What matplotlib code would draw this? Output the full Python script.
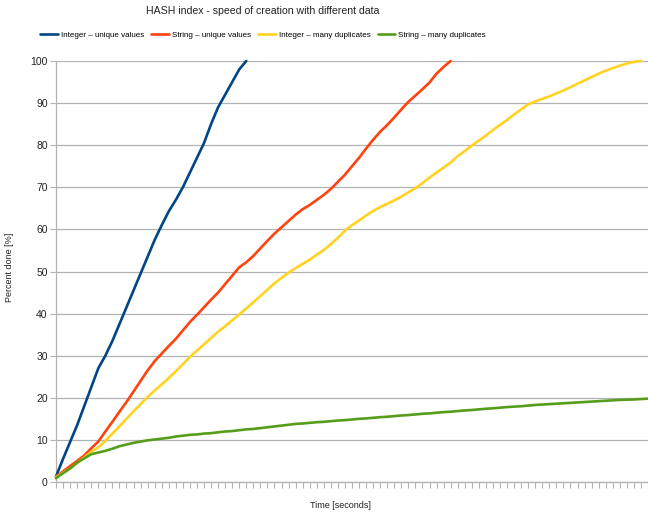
import matplotlib
matplotlib.use("Agg")
import matplotlib.pyplot as plt
from matplotlib.ticker import MultipleLocator

plt.rcParams['font.family'] = ['Liberation Sans', 'DejaVu Sans']

TITLE = "HASH index - speed of creation with different data"
SERIES_NAMES = ["Integer \u2013 unique values", "String \u2013 unique values",
                "Integer \u2013 many duplicates", "String \u2013 many duplicates"]
COLORS = ["#004586", "#ff420e", "#ffd320", "#579d1c"]

# percent done, one value per time step
int_unique = [1.3, 5.5, 9.5, 13.5, 18, 22.5, 27, 30, 33.5, 37.5, 41.5, 45.5, 49.5, 53.5,
              57.5, 61, 64.3, 67, 70, 73.5, 77, 80.5, 85, 89, 92, 95, 98, 100]

str_unique = [1.3, 2.5, 3.8, 5, 6.3, 8, 9.6, 12, 14.3, 16.7, 19, 21.5, 24, 26.5, 28.7,
              30.5, 32.3, 34, 36, 38, 39.7, 41.5, 43.3, 45, 47, 49, 51, 52.2, 53.7, 55.5,
              57.3, 59, 60.5, 62, 63.5, 64.8, 65.8, 67, 68.2, 69.6, 71.3, 73, 75, 77, 79.2,
              81.3, 83.2, 84.8, 86.6, 88.5, 90.3, 91.8, 93.3, 94.9, 97, 98.6, 100]

int_dups = [1.1, 2.2, 3.2, 4.5, 5.8, 7.2, 8.2, 9.8, 11.5, 13.2, 15, 16.8, 18.5, 20.2, 21.7,
            23.2, 24.7, 26.3, 28, 29.7, 31.2, 32.7, 34.2, 35.7, 37, 38.4, 39.8, 41.2, 42.7,
            44.2, 45.7, 47.2, 48.5, 49.7, 50.8, 51.8, 52.8, 54, 55.1, 56.5, 58, 59.7, 61,
            62.1, 63.3, 64.4, 65.3, 66.1, 66.9, 67.8, 68.8, 69.8, 71, 72.3, 73.5, 74.7, 75.9,
            77.4, 78.6, 79.9, 81.1, 82.3, 83.6, 84.8, 86.0, 87.3, 88.5, 89.7, 90.4, 91.0,
            91.6, 92.3, 93.0, 93.8, 94.6, 95.4, 96.2, 97.0, 97.7, 98.3, 98.9, 99.4, 99.8, 100]

str_dups = [0.9, 2.1, 3.2, 4.6, 5.6, 6.6, 7.0, 7.4, 7.9, 8.5, 8.9, 9.3, 9.6, 9.9, 10.1,
            10.3, 10.5, 10.8, 11.0, 11.2, 11.3, 11.5, 11.6, 11.8, 12.0, 12.1, 12.3, 12.5,
            12.6, 12.8, 13.0, 13.2, 13.4, 13.6, 13.8, 13.9, 14.05, 14.2, 14.3, 14.45, 14.6,
            14.7, 14.85, 15.0, 15.1, 15.25, 15.4, 15.5, 15.65, 15.8, 15.9, 16.05, 16.2, 16.3,
            16.45, 16.6, 16.7, 16.85, 17.0, 17.1, 17.25, 17.4, 17.5, 17.65, 17.8, 17.9, 18.0,
            18.15, 18.3, 18.4, 18.5, 18.6, 18.7, 18.8, 18.9, 19.0, 19.1, 19.2, 19.3, 19.4,
            19.5, 19.55, 19.6, 19.7, 19.8]

N_STEPS = 84
GRID = "#b3b3b3"


def main():
    fig = plt.figure(figsize=(6.48, 5.12), dpi=100)
    ax = fig.add_axes([56 / 648, 30 / 512, 592 / 648, 421 / 512])

    for name, vals, col in zip(SERIES_NAMES, [int_unique, str_unique, int_dups, str_dups], COLORS):
        ax.plot(range(len(vals)), vals, color=col, lw=1.9, label=name,
                solid_joinstyle="round", solid_capstyle="round", clip_on=False, zorder=3)

    ax.set_xlim(0, N_STEPS)
    ax.set_ylim(0, 100)
    ax.xaxis.set_major_locator(MultipleLocator(1))
    ax.yaxis.set_major_locator(MultipleLocator(10))
    ax.tick_params(axis="x", length=4, width=0.8, color=GRID, labelbottom=False)
    ax.tick_params(axis="y", length=4, width=0.8, color=GRID, labelsize=7.5,
                   labelcolor="#222222", pad=2)
    ax.grid(axis="y", color=GRID, lw=0.9)
    ax.set_axisbelow(True)
    for s in ["top", "right"]:
        ax.spines[s].set_visible(False)
    for s in ["left", "bottom"]:
        ax.spines[s].set_color(GRID)
        ax.spines[s].set_linewidth(0.9)

    fig.text(340 / 648, 1 - 506 / 512, "Time [seconds]", fontsize=6.5,
             ha="center", va="center", color="#222222")
    fig.text(10 / 648, 1 - 267 / 512, "Percent done [%]", fontsize=6.5, rotation=90,
             ha="center", va="center", color="#222222")
    fig.text(263 / 648, 1 - 11 / 512, TITLE, fontsize=7.6, ha="center", va="center",
             color="#222222")

    fig.legend(loc="center", bbox_to_anchor=(263 / 648, 1 - 35 / 512), ncol=4,
               frameon=False, fontsize=5.8, handlelength=2.2, handletextpad=0.35,
               columnspacing=0.9, borderaxespad=0)

    fig.savefig("out.png", dpi=100)
    plt.close(fig)


if __name__ == "__main__":
    main()
